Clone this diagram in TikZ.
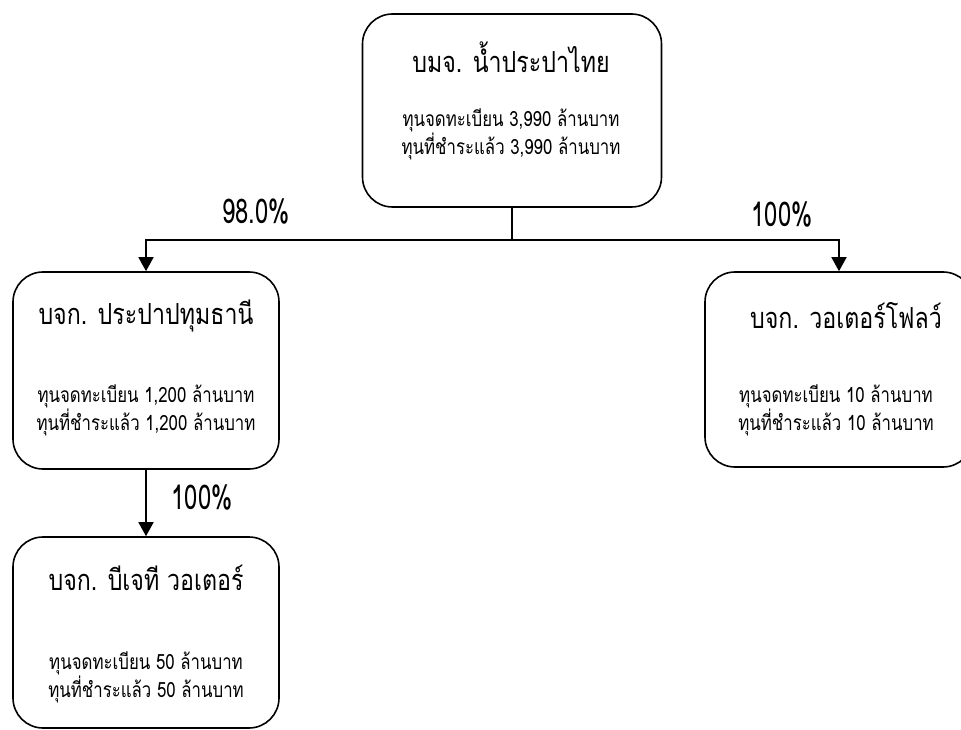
\documentclass[tikz,border=0pt]{standalone}
\usepackage{fontspec}
\newfontfamily\thaifont[Script=Thai,FakeStretch=0.8]{Loma}
\newfontfamily\pctfont[FakeStretch=0.7]{Loma}
\usetikzlibrary{arrows.meta,positioning}
\begin{document}
\begin{tikzpicture}[x=1pt,y=1pt,
    compbox/.style={draw,line width=1.6pt,rounded corners=30pt,inner sep=0pt},
    ttl/.style={font=\thaifont\fontsize{29}{34}\selectfont},
    capline/.style={font=\thaifont\fontsize{21}{26}\selectfont,align=center},
    pct/.style={font=\pctfont\fontsize{34}{38}\selectfont},
    arr/.style={line width=1.6pt,-{Triangle[width=15pt,length=14pt]}}]
    \clip (0,0) rectangle (961,729);
    % boxes
    \node[compbox,minimum width=299pt,minimum height=193pt] (thai) at (512,618.5) {};
    \node[compbox,minimum width=266pt,minimum height=197pt] (pipe) at (146,358.5) {};
    \node[compbox,minimum width=268pt,minimum height=195pt] (wflow) at (839,359.5) {};
    \node[compbox,minimum width=266pt,minimum height=191pt] (bjw) at (146,96.5) {};
    % texts
    \node[ttl] (thaiT) at (511,672) {บมจ. น้ำประปาไทย};
    \node[capline] (thaiC) at (511,595) {ทุนจดทะเบียน 3,990 ล้านบาท\\ทุนที่ชำระแล้ว 3,990 ล้านบาท};
    \node[ttl] (pipeT) at (146,413) {บจก. ประปาปทุมธานี};
    \node[capline] (pipeC) at (146,318.5) {ทุนจดทะเบียน 1,200 ล้านบาท\\ทุนที่ชำระแล้ว 1,200 ล้านบาท};
    \node[ttl] (wflowT) at (846,413) {บจก. วอเตอร์โฟลว์};
    \node[capline] (wflowC) at (836,319) {ทุนจดทะเบียน 10 ล้านบาท\\ทุนที่ชำระแล้ว 10 ล้านบาท};
    \node[ttl] (bjwT) at (146,151) {บจก. บีเจที วอเตอร์};
    \node[capline] (bjwC) at (146,52) {ทุนจดทะเบียน 50 ล้านบาท\\ทุนที่ชำระแล้ว 50 ล้านบาท};
    % connectors
    \draw[line width=1.6pt] (thai.south) -- ++(0,-32) coordinate (split);
    \draw[arr] (split) -| (pipe.north);
    \draw[arr] (split) -| (wflow.north);
    \draw[arr] (pipe.south) -- (bjw.north);
    \node[pct] (pctA) at (256,517) {98.0\%};
    \node[pct] (pctB) at (782,514) {100\%};
    \node[pct] (pctC) at (202,231) {100\%};
\end{tikzpicture}
\end{document}
